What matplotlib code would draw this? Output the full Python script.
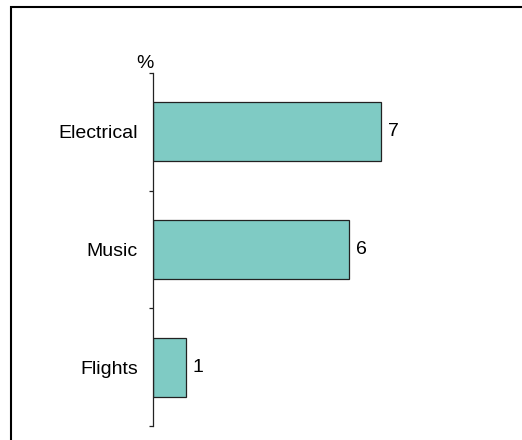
import matplotlib.pyplot as plt
from matplotlib.patches import Rectangle

plt.rcParams['font.family'] = ['Liberation Sans', 'DejaVu Sans']

categories = ["Electrical", "Music", "Flights"]
values = [7, 6, 1]

W, H = 522, 440
fig = plt.figure(figsize=(W / 100, H / 100), dpi=100)

# frame around the chart area (right and bottom edges fall outside the canvas)
fig.patches.append(Rectangle((11 / W, -0.1), 1.2, 1.1 - 7.5 / H,
                             transform=fig.transFigure, fill=False,
                             edgecolor='black', linewidth=1.5))

ax = fig.add_axes([153 / W, 1 - 426 / H, 326 / W, (426 - 73) / H])

pos = list(range(len(categories)))
bars = ax.barh(pos, values, height=0.5, color='#7fcbc4',
               edgecolor='#222222', linewidth=0.9)

ax.set_xlim(0, 10)
ax.set_ylim(len(categories) - 0.5, -0.5)

for s in ['top', 'right', 'bottom']:
    ax.spines[s].set_visible(False)
ax.spines['left'].set_linewidth(0.9)
ax.spines['left'].set_color('#222222')

fs = 14
ax.set_xticks([])
ax.set_yticks(pos)
ax.set_yticklabels(categories, fontsize=fs)
ax.tick_params(axis='y', which='major', length=0, pad=11)
ax.set_yticks([p - 0.5 for p in pos] + [len(pos) - 0.5], minor=True)
ax.tick_params(axis='y', which='minor', length=3, width=0.9,
               color='#222222', direction='out')

for b, v in zip(bars, values):
    ax.annotate(str(v), (b.get_width(), b.get_y() + b.get_height() / 2),
                xytext=(5, 0), textcoords='offset points',
                ha='left', va='center', fontsize=fs)

ax.annotate('%', (0, 1), xycoords='axes fraction', xytext=(-6, 7),
            textcoords='offset points', ha='center', va='center', fontsize=fs)

fig.savefig('out.png', dpi=100)
